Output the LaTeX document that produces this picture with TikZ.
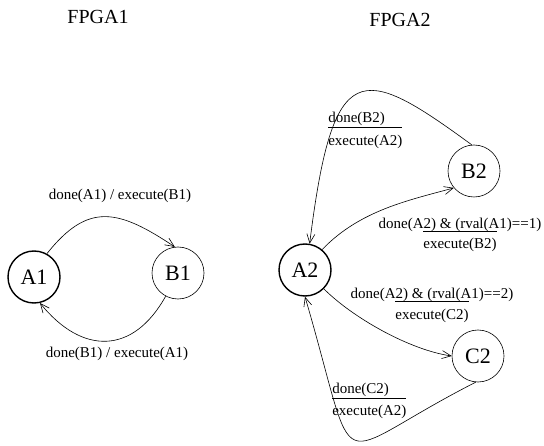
\documentclass[tikz,border=0pt]{standalone}
\usepackage{fontspec}
\setmainfont{Liberation Serif}
\usetikzlibrary{arrows.meta}
\tikzset{state/.style={circle, draw, minimum size=52pt, inner sep=0pt, font=\fontsize{22}{26}\selectfont}, start/.style={line width=1.4pt}, trans/.style={font=\fontsize{15}{18}\selectfont, inner sep=1pt}, title/.style={font=\fontsize{20}{24}\selectfont}, >={Straight Barb[length=9pt,width=8pt]}}
\newcommand{\execbar}[1]{\setbox0=\hbox{#1}\rlap{\raisebox{17.5pt}[0pt][0pt]{\rule{\wd0}{0.5pt}}}\box0}

\begin{document}
\begin{tikzpicture}[x=1pt, y=1pt, line width=0.6pt]
    \useasboundingbox (0,0) rectangle (544,445);
    \node[title] (fpga1) at (98, 428) {FPGA1};
    \node[title] (fpga2) at (400, 425) {FPGA2};
    % FPGA1
    \node[state, start] (A1) at (34, 168) {A1};
    \node[state] (B1) at (178, 172) {B1};
    \node[trans] (a1b1) at (120, 249) {done(A1) / execute(B1)};
    \node[trans] (b1a1) at (117, 91) {done(B1) / execute(A1)};
    \draw[->] (A1.61) .. controls (88, 243) and (118, 236) .. (B1.97);
    \draw[->] (B1.242) .. controls (133, 90) and (82, 90) .. (A1.283);
    % FPGA2
    \node[state, start] (A2) at (305, 175) {A2};
    \node[state] (B2) at (474, 274) {B2};
    \node[state] (C2) at (478, 89) {C2};
    \node[trans, align=left, anchor=west] (b2a2) at (327, 315) {done(B2)\\[5pt]\execbar{execute(A2)}};
    \node[trans, align=center] (a2b2) at (460, 210) {done(A2) \& (rval(A1)==1)\\[2pt]\execbar{execute(B2)}};
    \node[trans, align=center] (a2c2) at (432, 140) {done(A2) \& (rval(A1)==2)\\[3pt]\execbar{execute(C2)}};
    \node[trans, align=left, anchor=west] (c2a2) at (331, 44) {done(C2)\\[4pt]\execbar{execute(A2)}};
    \draw[->] (B2.95) .. controls (360, 382) and (333, 388) .. (A2.80);
    \draw[->] (A2.50) .. controls (360, 235) and (410, 245) .. (B2.220);
    \draw[->] (A2.-45) .. controls (353, 127) and (410, 95) .. (C2.180);
    \draw[->] (C2.-95) .. controls (325, -14) and (361, -43) .. (A2.-90);
\end{tikzpicture}
\end{document}
